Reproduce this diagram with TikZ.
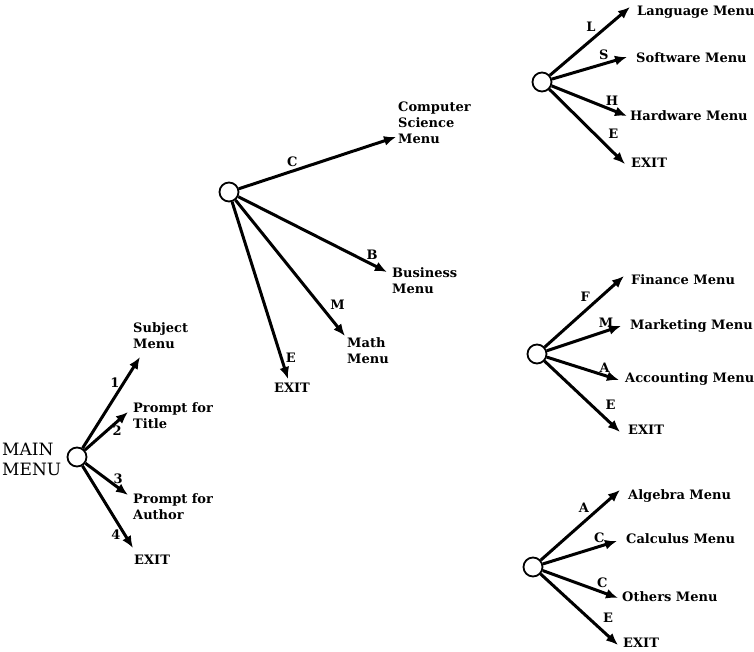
\documentclass[tikz,border=0pt]{standalone}
\usepackage{fontspec}
\setmainfont{DejaVu Serif}
\usepackage{tikz}
\usetikzlibrary{arrows.meta}
\usetikzlibrary{positioning}

\tikzset{
  hub/.style={circle, draw=black, fill=white, line width=1.8pt, minimum size=19pt, inner sep=0pt},
  menu/.style={align=left, inner sep=0pt, anchor=west, font=\fontsize{13}{16}\selectfont\bfseries},
  key/.style={inner sep=3pt, font=\fontsize{13}{16}\selectfont\bfseries},
  link/.style={line width=3pt, ->}
}

\begin{document}
\begin{tikzpicture}[x=1pt, y=-1pt]
\useasboundingbox (0,0) rectangle (754,652);

% main menu
\node at (77,457)[hub] (main) {};
\node at (2,459)[align=left, inner sep=0pt, anchor=west, font=\fontsize{17}{20}\selectfont] (maintxt) {MAIN\\MENU};
\coordinate (t1) at (140,357);
\coordinate (t2) at (128,412);
\coordinate (t3) at (128,495);
\coordinate (t4) at (133,548);
\node at (133,336)[menu] (subj) {Subject\\Menu};
\node at (133,416)[menu] (title) {Prompt for\\Title};
\node at (133,507)[menu] (author) {Prompt for\\Author};
\node at (134,560)[menu] (exit1) {EXIT};

% subject menu
\node at (229,192)[hub] (sub) {};
\coordinate (tc) at (396,137);
\coordinate (tb) at (387,272);
\coordinate (tm) at (345,336);
\coordinate (te) at (288,379);
\node at (398,123)[menu] (cs) {Computer\\Science\\Menu};
\node at (392,281)[menu] (bus) {Business\\Menu};
\node at (347,351)[menu] (math) {Math\\Menu};
\node at (292,388)[menu, anchor=center] (exit2) {EXIT};

% computer science menu
\node at (542,82)[hub] (csh) {};
\coordinate (tl) at (630,7);
\coordinate (ts) at (627,57);
\coordinate (th) at (627,116);
\coordinate (tx) at (625,164);
\node at (637,12)[menu] (lang) {Language Menu};
\node at (636,58)[menu] (soft) {Software Menu};
\node at (630,116)[menu] (hard) {Hardware Menu};
\node at (631,163)[menu] (exit3) {EXIT};

% business menu
\node at (537,354)[hub] (bush) {};
\coordinate (tf) at (624,276);
\coordinate (tk) at (621,326);
\coordinate (ta) at (619,380);
\coordinate (ty) at (620,432);
\node at (631,280)[menu] (fin) {Finance Menu};
\node at (630,326)[menu] (mark) {Marketing Menu};
\node at (625,379)[menu] (acc) {Accounting Menu};
\node at (628,430)[menu] (exit4) {EXIT};

% math menu
\node at (533,567)[hub] (mathh) {};
\coordinate (tal) at (620,490);
\coordinate (tca) at (617,541);
\coordinate (tot) at (618,598);
\coordinate (tz) at (618,645);
\node at (628,496)[menu] (alg) {Algebra Menu};
\node at (626,539)[menu] (calc) {Calculus Menu};
\node at (622,597)[menu] (oth) {Others Menu};
\node at (623,643)[menu] (exit5) {EXIT};

\begin{scope}[>={Latex[length=12pt,width=10pt]}]
	\draw [link] (main) -- node[key, pos=0.72, left] {1} (t1);
	\draw [link] (main) -- node[key, pos=0.75, below] {2} (t2);
	\draw [link] (main) -- node[key, pos=0.77, above] {3} (t3);
	\draw [link] (main) -- node[key, pos=0.84, left] {4} (t4);

	\draw [link] (sub) -- node[key, pos=0.34, above] {C} (tc);
	\draw [link] (sub) -- node[key, pos=0.9, above] {B} (tb);
	\draw [link] (sub) -- node[key, pos=0.77, right=6pt] {M} (tm);
	\draw [link] (sub) -- node[key, pos=0.88, right] {E} (te);

	\draw [link] (csh) -- node[key, pos=0.6, above left, inner sep=1pt] {L} (tl);
	\draw [link] (csh) -- node[key, pos=0.69, above] {S} (ts);
	\draw [link] (csh) -- node[key, pos=0.8, above] {H} (th);
	\draw [link] (csh) -- node[key, pos=0.72, above right] {E} (tx);

	\draw [link] (bush) -- node[key, pos=0.6, above left, inner sep=1pt] {F} (tf);
	\draw [link] (bush) -- node[key, pos=0.8, above, inner sep=2pt] {M} (tk);
	\draw [link] (bush) -- node[key, pos=0.8, above, inner sep=1pt] {A} (ta);
	\draw [link] (bush) -- node[key, pos=0.75, above right] {E} (ty);

	\draw [link] (mathh) -- node[key, pos=0.64, above left, inner sep=1pt] {A} (tal);
	\draw [link] (mathh) -- node[key, pos=0.76, above, inner sep=2pt] {C} (tca);
	\draw [link] (mathh) -- node[key, pos=0.79, above] {C} (tot);
	\draw [link] (mathh) -- node[key, pos=0.75, above right] {E} (tz);
\end{scope}

\end{tikzpicture}
\end{document}
